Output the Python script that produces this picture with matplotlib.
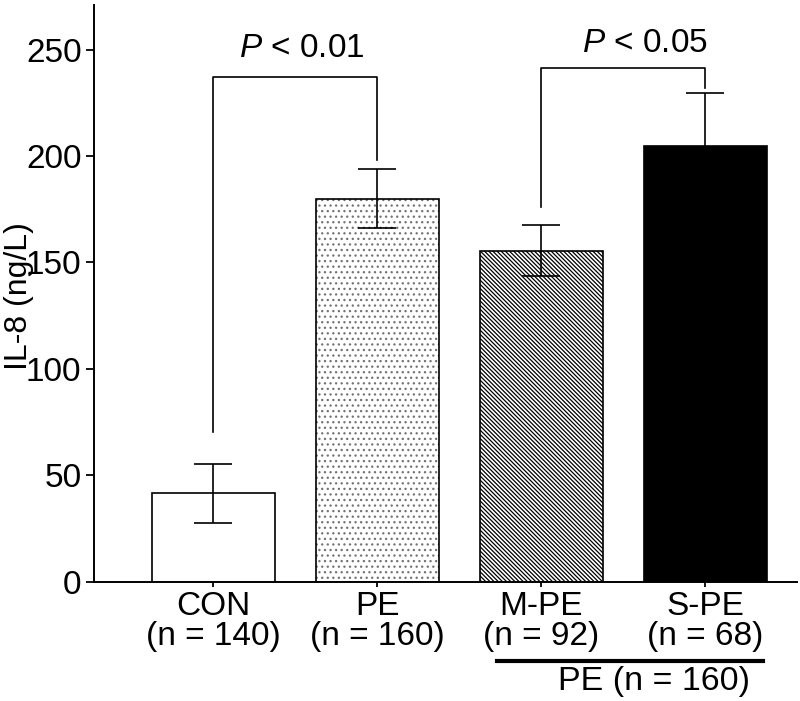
import numpy as np
import matplotlib
matplotlib.use('Agg')
import matplotlib.pyplot as plt
from matplotlib.transforms import blended_transform_factory

plt.rcParams['font.family'] = ['Liberation Sans', 'DejaVu Sans']
plt.rcParams['mathtext.fontset'] = 'custom'
plt.rcParams['mathtext.rm'] = 'Liberation Sans'
plt.rcParams['mathtext.it'] = 'Liberation Sans:italic'
plt.rcParams['hatch.linewidth'] = 0.9

# data
groups = ['CON\n(n = 140)', 'PE\n(n = 160)', 'M-PE\n(n = 92)', 'S-PE\n(n = 68)']
means = [41.5, 180, 155.5, 204.5]
errs = [14, 14, 12, 25]
hatches = ['', '...', '\\' * 8, '']
hatch_cols = ['black', '0.45', 'black', 'black']
faces = ['white', 'white', 'white', 'black']

# significance brackets: (x left, x right, top, left leg end, right leg end, label, label x, label y)
brackets = [
    (0, 1, 237, 70.5, 198, '$\\it{P}$ < 0.01', 0.54, 246.5),
    (2, 3, 241.5, 176, 232, '$\\it{P}$ < 0.05', 2.63, 249),
]

fig = plt.figure(figsize=(8, 7.01), dpi=100)
ax = fig.add_axes([0.1175, 0.17, 0.879, 0.823])

x = np.arange(len(groups))
for i in range(len(groups)):
    # hatch layer (own colour), then black outline on top
    ax.bar(x[i], means[i], width=0.75, color=faces[i], edgecolor=hatch_cols[i],
           linewidth=0, hatch=hatches[i], zorder=2)
    ax.bar(x[i], means[i], width=0.75, fill=False, edgecolor='black',
           linewidth=1.2, zorder=2.5)
ax.errorbar(x, means, yerr=errs, fmt='none', ecolor='black', elinewidth=1.2,
            capsize=14, capthick=1.2, zorder=3)

for xl, xr, top, yl, yr, lab, tx, ty in brackets:
    ax.plot([xl, xl, xr, xr], [yl, top, top, yr], color='black', lw=1.2, zorder=4)
    ax.text(tx, ty, lab, ha='center', va='baseline', fontsize=24)

# PE subgroup line under M-PE and S-PE
trans = blended_transform_factory(ax.transData, ax.transAxes)
ax.plot([1.73, 3.35], [-0.137, -0.137], color='black', lw=3, transform=trans,
        clip_on=False)
ax.text(2.69, -0.173, 'PE (n = 160)', ha='center', va='center', fontsize=24.5,
        transform=trans)

ax.set_xlim(-0.726, 3.56)
ax.set_ylim(0, 271)
ax.set_yticks([0, 50, 100, 150, 200, 250])
ax.set_xticks(x)
ax.set_xticklabels(groups, fontsize=24, linespacing=0.95)
ax.tick_params(axis='y', labelsize=24, length=6, width=1.3, pad=3)
ax.tick_params(axis='x', length=3.5, width=1.3, pad=3)
ax.set_ylabel('IL-8 (ng/L)', fontsize=23)
ax.yaxis.set_label_coords(-0.086, 0.495)

for s in ['top', 'right']:
    ax.spines[s].set_visible(False)
for s in ['left', 'bottom']:
    ax.spines[s].set_linewidth(1.4)

fig.savefig('out.png', dpi=100)
